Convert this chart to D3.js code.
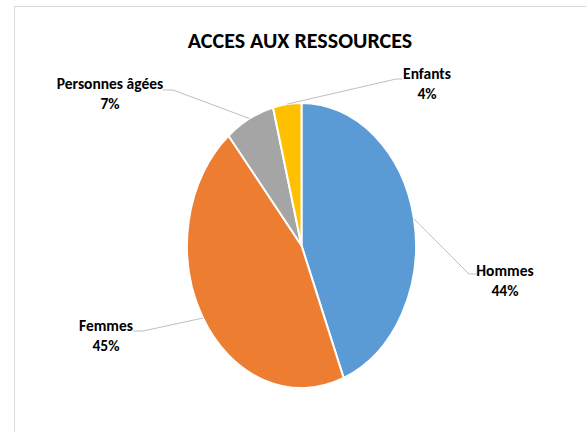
<!DOCTYPE html>
<html>
<head>
<meta charset="utf-8">
<script src="https://cdn.jsdelivr.net/npm/d3@7"></script>
<style>
  html, body { margin: 0; padding: 0; background: #fff; }
  svg { display: block; }
  text { font-family: "Carlito", "Liberation Sans Narrow", "Open Sans", sans-serif; font-weight: bold; fill: #000; }
</style>
</head>
<body>
<svg id="chart" width="586" height="432"></svg>
<script>
// Répartition de l'accès aux ressources
const categories = ["Hommes", "Femmes", "Personnes âgées", "Enfants"];
const values = [44, 45, 7, 4];
const percentLabels = ["44%", "45%", "7%", "4%"];
const colors = ["#5b9bd5", "#ed7d31", "#a5a5a5", "#ffc000"];
const title = "ACCES AUX RESSOURCES";

// Label anchors (x of the text centre, y of the first baseline) and leader elbows
const labelLayout = [
  { x: 505, y: 276, elbow: [469, 274], end: [477, 274] },
  { x: 106, y: 331, elbow: [143, 331], end: [133, 331] },
  { x: 110, y: 89,  elbow: [173, 90],  end: [163, 90] },
  { x: 427, y: 79,  elbow: [396, 79],  end: [402, 79] }
];

const W = 586, H = 432;
const cx = 301.5, cy = 245.5, rx = 114.5, ry = 142.5;

const svg = d3.select("#chart");

// chart frame
svg.append("rect")
  .attr("x", 14.5).attr("y", 6.5)
  .attr("width", W + 10).attr("height", H + 10)
  .attr("fill", "#fff").attr("stroke", "#d9d9d9").attr("stroke-width", 1);

svg.append("text")
  .attr("x", 300).attr("y", 48)
  .attr("text-anchor", "middle")
  .attr("font-size", 22)
  .text(title);

const data = categories.map((c, i) => ({ name: c, value: values[i], pct: percentLabels[i], color: colors[i], layout: labelLayout[i] }));

const pie = d3.pie().sort(null).value(d => d.value);
const arcs = pie(data);
const arc = d3.arc().innerRadius(0).outerRadius(rx);

// pie drawn as a circle, stretched vertically into an ellipse
const g = svg.append("g")
  .attr("transform", `translate(${cx},${cy}) scale(1,${ry / rx})`);

g.selectAll("path")
  .data(arcs)
  .join("path")
  .attr("d", arc)
  .attr("fill", d => d.data.color)
  .attr("stroke", "#fff")
  .attr("stroke-width", 2)
  .attr("vector-effect", "non-scaling-stroke");

// point on the ellipse edge at the middle angle of a slice
function edgePoint(d) {
  const a = (d.startAngle + d.endAngle) / 2;
  return [cx + rx * Math.sin(a), cy - ry * Math.cos(a)];
}

svg.selectAll("polyline.leader")
  .data(arcs)
  .join("polyline")
  .attr("class", "leader")
  .attr("points", d => [edgePoint(d), d.data.layout.elbow, d.data.layout.end].map(p => p.join(",")).join(" "))
  .attr("fill", "none")
  .attr("stroke", "#bfbfbf")
  .attr("stroke-width", 1);

const labels = svg.selectAll("text.lbl")
  .data(arcs)
  .join("text")
  .attr("class", "lbl")
  .attr("text-anchor", "middle")
  .attr("font-size", 15.5);

labels.append("tspan")
  .attr("x", d => d.data.layout.x)
  .attr("y", d => d.data.layout.y)
  .text(d => d.data.name);

labels.append("tspan")
  .attr("x", d => d.data.layout.x)
  .attr("y", d => d.data.layout.y + 20)
  .text(d => d.data.pct);
</script>
</body>
</html>
